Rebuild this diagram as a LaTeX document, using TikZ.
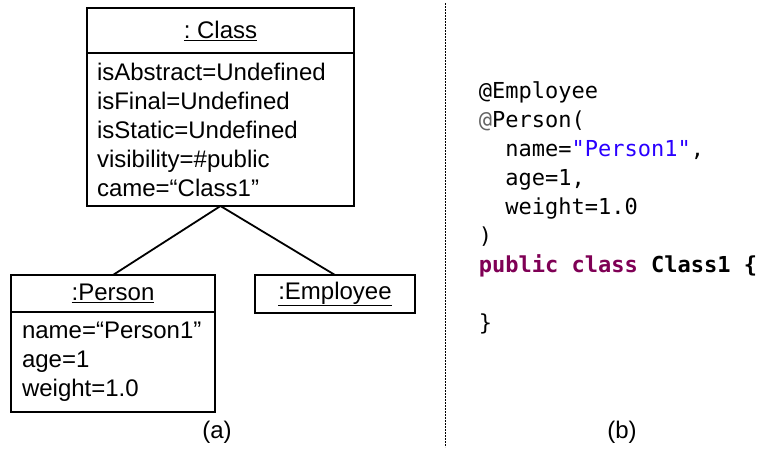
\documentclass[tikz,border=0pt]{standalone}
\usepackage{fontspec}
\usepackage{tikz}
\usetikzlibrary{arrows,calc}
\setmainfont{Liberation Sans}
\newfontfamily\codefont{DejaVu Sans Mono}
\definecolor{kwpurple}{HTML}{7F0055}
\definecolor{strblue}{HTML}{2A00FF}
\definecolor{anngray}{HTML}{646464}
\frenchspacing

\begin{document}
\begin{tikzpicture}[x=1pt,y=-1pt,line width=1.8pt,
      objhead/.style={draw,rectangle,inner sep=0pt,outer sep=0pt},
      objbody/.style={draw,rectangle,inner ysep=0pt,outer sep=0pt,align=left},
      big/.style={font=\fontsize{24}{29}\selectfont}]

      \useasboundingbox (0,0) rectangle (759,450);

      % (a) object diagram
      \node[objhead,big,minimum width=267,minimum height=45] (chead) at (220.5, 30.5)
      { \underline{: Class} };
      \node[objbody,big,text width=247,inner xsep=10,minimum height=153] (cbody) at (220.5, 129.5)
      { isAbstract=Undefined\\ isFinal=Undefined\\ isStatic=Undefined\\
        visibility=\#public\\ came=“Class1” };

      \node[objhead,big,minimum width=204,minimum height=37] (phead) at (113, 293.5)
      { \underline{:Person} };
      \node[objbody,big,text width=182,inner xsep=11,minimum height=100] (pbody) at (113, 362)
      { name=“Person1”\\ age=1\\ weight=1.0 };

      \node[objhead,big,minimum width=160,minimum height=38] (ehead) at (335, 294)
      { \underline{:Employee} };

      \path
      (cbody.south) edge (phead.north)
      (cbody.south) edge (ehead.north)
      ;

      \node[big] (lbla) at (217, 432) { (a) };

      % divider
      \coordinate (dtop) at (445, 3);
      \coordinate (dbot) at (445, 447);
      \draw[line width=0.8pt,dash pattern=on 2pt off 1pt] (dtop) -- (dbot);

      % (b) annotated code
      \node[anchor=west,inner sep=0pt,align=left,
            font=\codefont\fontsize{22}{29}\selectfont] (code) at (478, 207.5)
      { @Employee\\
        {\color{anngray}@}Person(\\
        \hphantom{xx}name={\color{strblue}"Person1"},\\
        \hphantom{xx}age=1,\\
        \hphantom{xx}weight=1.0\\
        )\\
        {\bfseries\color{kwpurple}public class} {\bfseries Class1 \{}\\
        ~\\
        \} };

      \node[big] (lblb) at (622, 432) { (b) };
    \end{tikzpicture}
\end{document}
